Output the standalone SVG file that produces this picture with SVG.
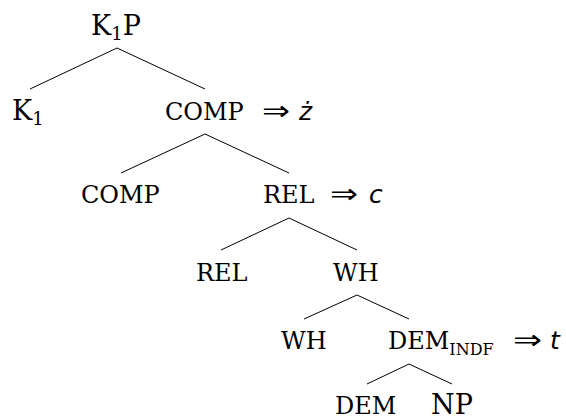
<svg xmlns="http://www.w3.org/2000/svg" width="566" height="417" viewBox="0 0 566 417">
<style>
.big{font-family:"DejaVu Serif","Liberation Serif",serif;font-size:27px;fill:#000}
.sc{font-family:"DejaVu Serif","Liberation Serif",serif;font-size:24px;fill:#000}
.sub{font-size:18px}
.subsc{font-size:16px}
.arr{font-family:"DejaVu Sans",sans-serif;font-size:27px;fill:#000}
.it{font-family:"DejaVu Sans",sans-serif;font-style:italic;font-size:25px;fill:#000}
.edge{stroke:#000;stroke-width:1;fill:none}
</style>
<rect width="566" height="417" fill="#fff"/>
<g id="connectors">
<path class="edge" d="M30,89 L117,48 L205,89"/>
<path class="edge" d="M121,173 L205,134 L289,173"/>
<path class="edge" d="M221,250 L289,218 L357,250"/>
<path class="edge" d="M304,319 L357,295 L409,319"/>
<path class="edge" d="M367,384 L409,364 L452,384"/>
</g>
<g id="n-k1p"><text class="big" x="91" y="35">K<tspan class="sub" dy="5">1</tspan><tspan dy="-5">P</tspan></text></g>
<g id="n-k1"><text class="big" x="12" y="120">K<tspan class="sub" dy="5">1</tspan></text></g>
<g id="n-comp1"><text class="sc" x="165" y="120">COMP</text><text class="arr" x="262" y="120" textLength="28" lengthAdjust="spacingAndGlyphs">⇒</text><text class="it" x="299" y="120">ż</text></g>
<g id="n-comp2"><text class="sc" x="81" y="203">COMP</text></g>
<g id="n-rel1"><text class="sc" x="263" y="203">REL</text><text class="arr" x="330" y="203" textLength="28" lengthAdjust="spacingAndGlyphs">⇒</text><text class="it" x="369" y="203">c</text></g>
<g id="n-rel2"><text class="sc" x="196" y="281">REL</text></g>
<g id="n-wh1"><text class="sc" x="333" y="281">WH</text></g>
<g id="n-wh2"><text class="sc" x="281" y="349">WH</text></g>
<g id="n-dem1"><text class="sc" x="388" y="349">DEM<tspan class="subsc" dy="6">INDF</tspan></text><text class="arr" x="513" y="349" textLength="29" lengthAdjust="spacingAndGlyphs">⇒</text><text class="it" x="550" y="349">t</text></g>
<g id="n-dem2"><text class="sc" x="335" y="414">DEM</text></g>
<g id="n-np"><text class="big" x="431" y="414">NP</text></g>
</svg>
